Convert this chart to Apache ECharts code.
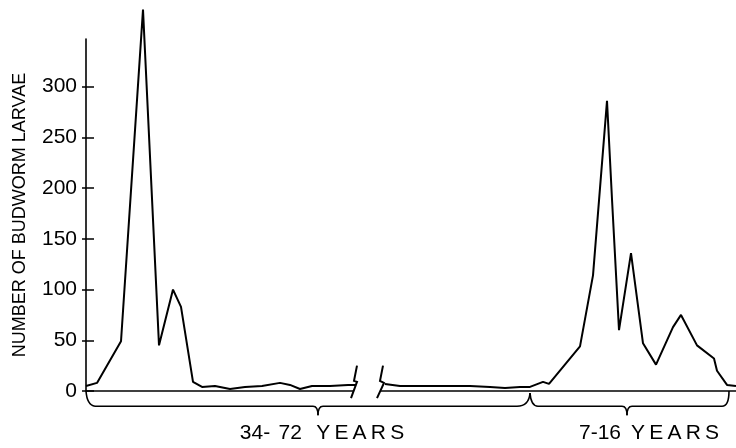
<!DOCTYPE html>
<html>
<head>
<meta charset="utf-8">
<script src="https://cdn.jsdelivr.net/npm/echarts@6/dist/echarts.min.js"></script>
<style>
  html, body { margin: 0; padding: 0; background: #fff; }
  #chart { width: 736px; height: 448px; }
</style>
</head>
<body>
<div id="chart"></div>
<script>
// 左段: 34-72 年林分 (位置单位, 幼虫数量)
const oldStandX = [0, 11, 35, 57, 73, 87, 95, 107, 116, 129, 144, 159, 176, 194, 204, 214, 226, 244, 262, 270]
const oldStandY = [5, 8, 49, 376, 45, 100, 83, 9, 4, 5, 2, 4, 5, 8, 6, 2, 5, 5, 6, 6]
// 右段: 断开之后, 7-16 年林分
const youngStandX = [299, 314, 344, 384, 404, 419, 434, 444, 457, 463, 494, 507, 521, 526, 533, 545, 557, 570, 587, 595, 611, 628, 631, 641, 650]
const youngStandY = [7, 5, 5, 5, 4, 3, 4, 4, 9, 7, 44, 114, 286, 189, 60, 136, 47, 26, 63, 75, 45, 32, 20, 6, 5]
// y轴刻度
const yTicks = [0, 50, 100, 150, 200, 250, 300]
// 分组文字
const groupNames = ['34-\u2009\u200972\u2009\u2009 Y\u2009E\u2009A\u2009R\u2009S', '7-16\u2009 Y\u2009E\u2009A\u2009R\u2009S']

const font = 'Liberation Sans'
const black = '#000'

// 断轴 (位置单位)
const axisBreak = [268, 294]

function pairs (xs, ys) {
  return xs.map((x, i) => [x, ys[i]])
}

// 画断轴符号, 大括号和分组文字
function renderDecor (params, api) {
  const p = v => api.coord(v)
  const st = { stroke: black, lineWidth: 1.6, fill: null }
  const kids = []
  const line = (a, b) => {
    const s = p(a)
    const e = p(b)
    kids.push({ type: 'line', shape: { x1: s[0], y1: s[1], x2: e[0], y2: e[1] }, style: st })
  }
  const curve = (a, c, b) => {
    const s = p(a)
    const cc = p(c)
    const e = p(b)
    kids.push({ type: 'bezierCurve', shape: { x1: s[0], y1: s[1], cpx1: cc[0], cpy1: cc[1], x2: e[0], y2: e[1] }, style: st })
  }
  const poly = pts => {
    kids.push({ type: 'polyline', shape: { points: pts.map(p) }, style: Object.assign({}, st, { lineWidth: 2 }) })
  }
  // x轴 (中间断开)
  line([0, 0], [axisBreak[0], 0])
  line([axisBreak[1], 0], [650, 0])
  // 断轴符号
  poly([[271, 25], [268, 10], [271, 9], [265, -7]])
  poly([[297, 25], [294, 10], [298, 8], [291, -7]])
  // 左边大括号
  curve([0, 0], [1, -14], [9, -15])
  line([9, -15], [227, -15])
  curve([227, -15], [232, -15], [232, -24])
  curve([232, -24], [232, -15], [237, -15])
  line([237, -15], [431, -15])
  curve([431, -15], [443, -15], [444, -2])
  // 右边大括号
  curve([444, -2], [445, -15], [452, -15])
  line([452, -15], [536, -15])
  curve([536, -15], [541, -15], [541, -24])
  curve([541, -24], [541, -15], [546, -15])
  line([546, -15], [636, -15])
  curve([636, -15], [643, -15], [643, 0])
  // 分组文字
  const t1 = p([236, -42])
  const t2 = p([563, -42])
  ;[[t1, groupNames[0]], [t2, groupNames[1]]].forEach(([pos, txt]) => {
    kids.push({
      type: 'text',
      x: pos[0],
      y: pos[1],
      style: { text: txt, fill: black, font: '21px "' + font + '"', align: 'center', verticalAlign: 'middle' }
    })
  })
  return { type: 'group', children: kids }
}

const chart = echarts.init(document.getElementById('chart'), null, { renderer: 'canvas' })
const option = {
  animation: false,
  backgroundColor: '#fff',
  grid: { left: 86, right: 0, top: 39, bottom: 57, containLabel: false, outerBoundsMode: 'none' },
  xAxis: { type: 'value', min: 0, max: 650, show: false },
  yAxis: [
    {
      type: 'value',
      min: 0,
      max: 347,
      name: 'NUMBER OF BUDWORM LARVAE',
      nameLocation: 'middle',
      nameGap: 57,
      nameTextStyle: { color: black, fontSize: 18, fontFamily: font },
      axisLine: { show: true, onZero: false, lineStyle: { color: black, width: 1.6 } },
      axisTick: { show: true, length: 4, customValues: yTicks, lineStyle: { color: black, width: 1.5 } },
      axisLabel: { customValues: yTicks, margin: 9, color: black, fontSize: 21, fontFamily: font },
      splitLine: { show: false }
    },
    {
      // 轴内侧的刻度
      type: 'value',
      min: 0,
      max: 347,
      position: 'left',
      axisLine: { show: false, onZero: false },
      axisTick: { show: true, inside: true, length: 8, customValues: yTicks, lineStyle: { color: black, width: 1.5 } },
      axisLabel: { show: false },
      splitLine: { show: false }
    }
  ],
  series: [
    {
      type: 'line',
      data: pairs(oldStandX, oldStandY),
      showSymbol: false,
      clip: false,
      lineStyle: { color: black, width: 2 },
      z: 3
    },
    {
      type: 'line',
      data: pairs(youngStandX, youngStandY),
      showSymbol: false,
      clip: false,
      lineStyle: { color: black, width: 2 },
      z: 3
    },
    {
      type: 'custom',
      data: [[0, 0]],
      clip: false,
      silent: true,
      renderItem: renderDecor,
      z: 2
    }
  ]
}
chart.setOption(option)
</script>
</body>
</html>
